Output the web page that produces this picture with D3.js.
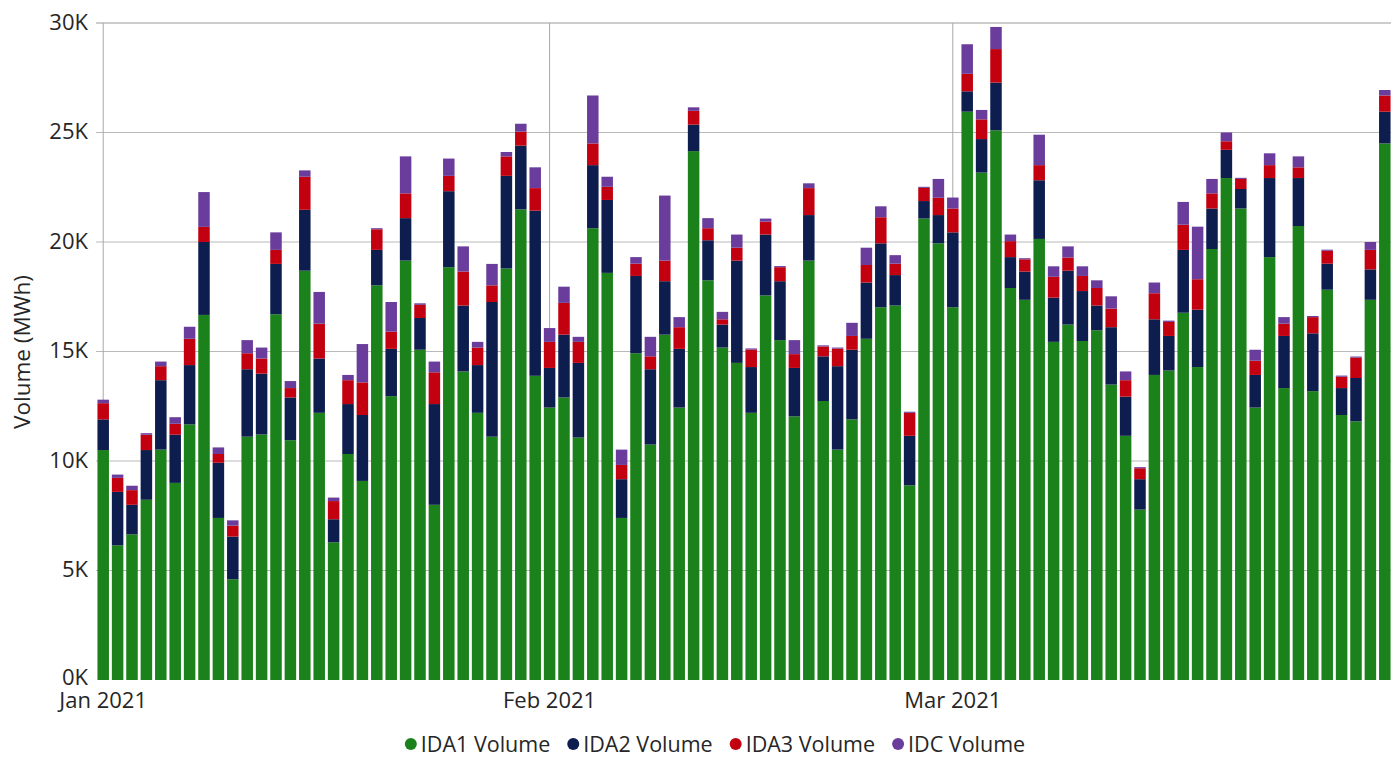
<!DOCTYPE html>
<html><head><meta charset="utf-8">
<script src="https://cdn.jsdelivr.net/npm/d3@7"></script>
<style>body{margin:0;background:#fff} svg{display:block} text{font-family:"Open Sans","Noto Sans",sans-serif;fill:#262626}</style>
</head><body><svg id="c" width="1397" height="758"></svg>
<script>
// Daily volumes, thousands of MWh, 1 Jan 2021 .. 31 Mar 2021
const ida1 = [10.5,6.15,6.65,8.23,10.52,9.0,11.67,16.67,7.4,4.6,11.11,11.21,16.7,10.95,18.69,12.2,6.29,10.32,9.09,18.02,12.96,19.15,15.08,8.0,18.85,14.09,12.2,11.11,18.79,21.49,13.89,
 12.44,12.9,11.07,20.63,18.59,7.4,14.92,10.75,15.77,12.44,24.15,18.25,15.18,14.48,12.2,17.56,15.52,12.04,19.15,12.74,10.52,11.9,15.58,17.02,17.1,8.89,21.07,19.94,
 17.02,25.95,23.17,25.1,17.9,17.36,20.14,15.44,16.23,15.48,15.97,13.49,11.15,7.78,13.93,14.13,16.77,14.29,19.68,22.92,21.53,12.44,19.31,13.33,20.73,13.19,17.82,12.1,11.81,17.36,24.5];
const ida2 = [1.4,2.44,1.35,2.27,3.17,2.2,2.71,3.33,2.52,1.95,3.08,2.78,2.3,1.95,2.78,2.48,1.05,2.28,3.01,1.62,2.16,1.94,1.45,4.6,3.47,3.01,2.18,6.15,4.23,2.91,7.54,
 1.81,2.87,3.41,2.88,3.33,1.77,3.53,3.44,2.44,2.68,1.21,1.83,1.05,4.67,2.09,2.78,2.69,2.21,2.08,2.04,3.81,3.18,2.57,2.92,1.39,2.26,0.8,1.29,
 3.42,0.93,1.53,2.18,1.41,1.29,2.68,2.02,2.46,2.28,1.13,2.62,1.79,1.39,2.54,1.58,2.87,2.62,1.85,1.29,0.89,1.49,3.61,2.38,2.19,2.64,1.19,1.23,1.98,1.39,1.45];
const ida3 = [0.74,0.64,0.67,0.7,0.64,0.5,1.2,0.69,0.4,0.5,0.73,0.69,0.64,0.43,1.51,1.59,0.83,1.09,1.49,0.94,0.79,1.13,0.6,1.45,0.7,1.55,0.8,0.76,0.89,0.64,1.03,
 1.19,1.45,0.96,0.99,0.6,0.65,0.56,0.59,0.94,0.99,0.63,0.55,0.24,0.59,0.8,0.59,0.64,0.63,1.23,0.45,0.8,0.63,0.8,1.19,0.52,1.05,0.6,0.79,
 1.09,0.8,0.9,1.53,0.73,0.56,0.69,0.95,0.6,0.69,0.8,0.85,0.75,0.5,1.19,0.64,1.15,1.39,0.69,0.39,0.46,0.65,0.59,0.56,0.49,0.74,0.59,0.52,0.93,0.89,0.74];
const idc = [0.16,0.15,0.2,0.07,0.21,0.3,0.55,1.59,0.3,0.24,0.6,0.5,0.8,0.32,0.29,1.45,0.16,0.24,1.75,0.05,1.35,1.69,0.07,0.49,0.79,1.15,0.26,0.98,0.2,0.36,0.95,
 0.63,0.74,0.23,2.19,0.46,0.7,0.3,0.89,2.97,0.46,0.16,0.46,0.34,0.6,0.05,0.14,0.05,0.64,0.22,0.05,0.05,0.6,0.79,0.5,0.39,0.05,0.05,0.86,
 0.5,1.35,0.43,1.01,0.3,0.05,1.39,0.48,0.51,0.44,0.35,0.56,0.4,0.05,0.49,0.06,1.04,2.4,0.66,0.4,0.05,0.5,0.54,0.3,0.5,0.05,0.05,0.05,0.05,0.36,0.25];

const seriesKeys = ["IDA1 Volume","IDA2 Volume","IDA3 Volume","IDC Volume"];
const seriesColors = ["#1b811b","#0d1d4d","#c3000f","#6a3d9c"];
const yTicks = [0,5,10,15,20,25,30];
const yTickLabels = ["0K","5K","10K","15K","20K","25K","30K"];
const xTickDates = ["2021-01-01","2021-02-01","2021-03-01"];
const xTickLabels = ["Jan 2021","Feb 2021","Mar 2021"];
const yTitle = "Volume (MWh)";

const start = new Date(Date.UTC(2021,0,1));
const rows = ida1.map((v,i)=>({date:d3.utcDay.offset(start,i),"IDA1 Volume":v,"IDA2 Volume":ida2[i],"IDA3 Volume":ida3[i],"IDC Volume":idc[i]}));

const svg = d3.select("#c");
const x = d3.scaleUtc()
  .domain([d3.utcHour.offset(rows[0].date,-12), d3.utcHour.offset(rows[rows.length-1].date,12)])
  .range([96,1392]);
const y = d3.scaleLinear().domain([0,30]).range([680,23]);
const color = d3.scaleOrdinal().domain(seriesKeys).range(seriesColors);

// horizontal grid
svg.append("g").selectAll("line").data(yTicks).join("line")
  .attr("x1",96).attr("x2",1391).attr("y1",d=>y(d)).attr("y2",d=>y(d))
  .attr("stroke",d=>d===0?"none":(d===30?"#9a9a9a":"#b9b9b9")).attr("stroke-width",1);
// vertical grid
const xDates = xTickDates.map(s=>new Date(s+"T00:00:00Z"));
svg.append("g").selectAll("line").data(xDates).join("line")
  .attr("x1",d=>x(d)).attr("x2",d=>x(d)).attr("y1",y(30)).attr("y2",680)
  .attr("stroke","#a8a8a8").attr("stroke-width",1);

// bars
const stack = d3.stack().keys(seriesKeys)(rows);
const bw = 11.5;
svg.append("g").selectAll("g").data(stack).join("g").attr("fill",d=>color(d.key))
  .selectAll("rect").data(d=>d).join("rect")
  .attr("x",d=>x(d.data.date)-bw/2).attr("width",bw)
  .attr("y",d=>y(d[1])).attr("height",d=>y(d[0])-y(d[1]));

// y axis labels
svg.append("g").selectAll("text").data(yTicks).join("text")
  .attr("x",88).attr("y",d=>y(d)).attr("dy",d=>d===0?"0.22em":"0.3em").attr("text-anchor","end")
  .attr("font-size",22).text((d,i)=>yTickLabels[i]);
svg.append("text").attr("transform","translate(30,352) rotate(-90)")
  .attr("text-anchor","middle").attr("font-size",22.5).text(yTitle);

// x axis labels
svg.append("g").selectAll("text").data(xDates).join("text")
  .attr("x",d=>x(d)).attr("y",708).attr("text-anchor","middle")
  .attr("font-size",22).text((d,i)=>xTickLabels[i]);

// legend
const lg = svg.append("g");
let cx = 0;
seriesKeys.forEach((k,i)=>{
  const g = lg.append("g");
  g.append("circle").attr("cx",6).attr("cy",0).attr("r",6).attr("fill",seriesColors[i]);
  const t = g.append("text").attr("x",16).attr("dy","0.35em").attr("font-size",21.5).text(k);
  const w = 16 + t.node().getComputedTextLength();
  g.attr("transform",`translate(${cx},744)`);
  cx += w + 17;
});
const total = cx - 17;
lg.attr("transform",`translate(${715-total/2},0)`);
</script></body></html>
